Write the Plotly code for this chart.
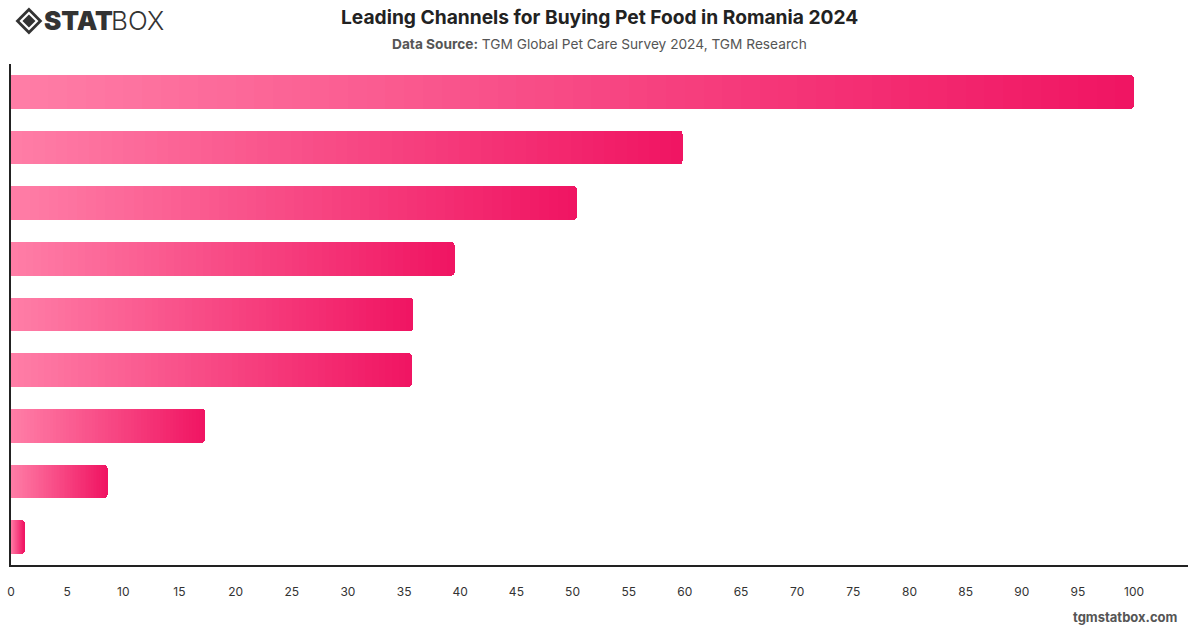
import plotly.graph_objects as go

# ---- data ----
channels = [
    "Supermarkets / hypermarkets",
    "Pet specialty stores",
    "Online pet stores",
    "General e-commerce sites",
    "Veterinary clinics",
    "Discount stores",
    "Convenience stores",
    "Farm / agricultural stores",
    "Other",
]
shares = [100.0, 59.8, 50.4, 39.5, 35.8, 35.7, 17.3, 8.6, 1.2]
x_ticks = list(range(0, 101, 5))

title_text = "Leading Channels for Buying Pet Food in Romania 2024"
source_label = "Data Source:"
source_text = "TGM Global Pet Care Survey 2024, TGM Research"

# ---- gradient colours ----
c_start = (255, 126, 167)
c_end = (240, 20, 98)
N_SEG = 60

ML, MR, MT, MB = 7, 12, 64, 63
W, H = 1200, 628


def mix(t):
    r = round(c_start[0] + (c_end[0] - c_start[0]) * t)
    g = round(c_start[1] + (c_end[1] - c_start[1]) * t)
    b = round(c_start[2] + (c_end[2] - c_start[2]) * t)
    return f"rgb({r},{g},{b})"


fig = go.Figure()
for k in range(N_SEG):
    t = (k + 0.5) / N_SEG
    fig.add_trace(go.Bar(
        y=channels,
        x=[v / N_SEG for v in shares],
        orientation="h",
        marker=dict(color=mix(t), line=dict(width=0)),
        showlegend=False,
        hoverinfo="skip",
    ))

fig.update_layout(
    barmode="stack",
    bargap=0.39,
    barcornerradius=4,
    width=W,
    height=H,
    paper_bgcolor="white",
    plot_bgcolor="white",
    margin=dict(l=ML, r=MR, t=MT, b=MB),
    font=dict(family="Inter, Roboto, sans-serif", color="#333"),
    xaxis=dict(
        range=[0, 104.8],
        tickvals=x_ticks,
        ticktext=[str(v) for v in x_ticks],
        showgrid=False,
        zeroline=False,
        showline=True,
        linecolor="#222",
        linewidth=1.5,
        ticks="",
        ticklabelstandoff=15,
        tickfont=dict(size=12, color="#333"),
        fixedrange=True,
    ),
    yaxis=dict(
        autorange="reversed",
        showticklabels=False,
        showgrid=False,
        zeroline=False,
        showline=True,
        linecolor="#222",
        linewidth=1.5,
        ticks="",
        fixedrange=True,
    ),
)

# title & subtitle
fig.add_annotation(
    text=f"<b>{title_text}</b>", xref="paper", yref="paper",
    x=0.5, y=1, xanchor="center", yanchor="bottom",
    yshift=33, showarrow=False,
    font=dict(size=19.2, color="#222", family="Inter, Roboto, sans-serif"),
)
fig.add_annotation(
    text=f"<b>{source_label}</b> {source_text}", xref="paper", yref="paper",
    x=0.5, y=1, xanchor="center", yanchor="bottom",
    yshift=10, showarrow=False,
    font=dict(size=13.7, color="#555", family="Inter, Roboto, sans-serif"),
)

# footer
fig.add_annotation(
    text="<b>tgmstatbox.com</b>", xref="paper", yref="paper",
    x=1, y=0, xanchor="right", yanchor="top",
    xshift=-8, yshift=-42, showarrow=False,
    font=dict(size=13, color="#555", family="Inter, Roboto, sans-serif"),
)


# logo: diamond icon + wordmark
def px(xpix):
    return (xpix - ML) / (W - ML - MR)


def py(ypix):
    return (H - MB - ypix) / (H - MT - MB)


cx, cy = 25, 21


def diamond_paper(h):
    pts = [(cx, cy - h), (cx + h, cy), (cx, cy + h), (cx - h, cy)]
    return "M " + " L ".join(f"{px(a):.5f} {py(b):.5f}" for a, b in pts) + " Z"


fig.add_shape(type="path", xref="paper", yref="paper", path=diamond_paper(13.5),
              fillcolor="#333", line=dict(width=0), layer="above")
fig.add_shape(type="path", xref="paper", yref="paper", path=diamond_paper(9.5),
              fillcolor="white", line=dict(width=0), layer="above")
fig.add_shape(type="path", xref="paper", yref="paper", path=diamond_paper(6.5),
              fillcolor="#333", line=dict(width=0), layer="above")

fig.add_annotation(
    text="STAT", xref="paper", yref="paper",
    x=px(38), y=py(21), xanchor="left", yanchor="middle",
    showarrow=False,
    font=dict(size=26, color="#333", family="Inter, Roboto, sans-serif", weight=900),
)
fig.add_annotation(
    text="BOX", xref="paper", yref="paper",
    x=px(105), y=py(21), xanchor="left", yanchor="middle",
    showarrow=False,
    font=dict(size=26, color="#333", family="Inter, Roboto, sans-serif", weight=300),
)

fig.write_html("out.html")
